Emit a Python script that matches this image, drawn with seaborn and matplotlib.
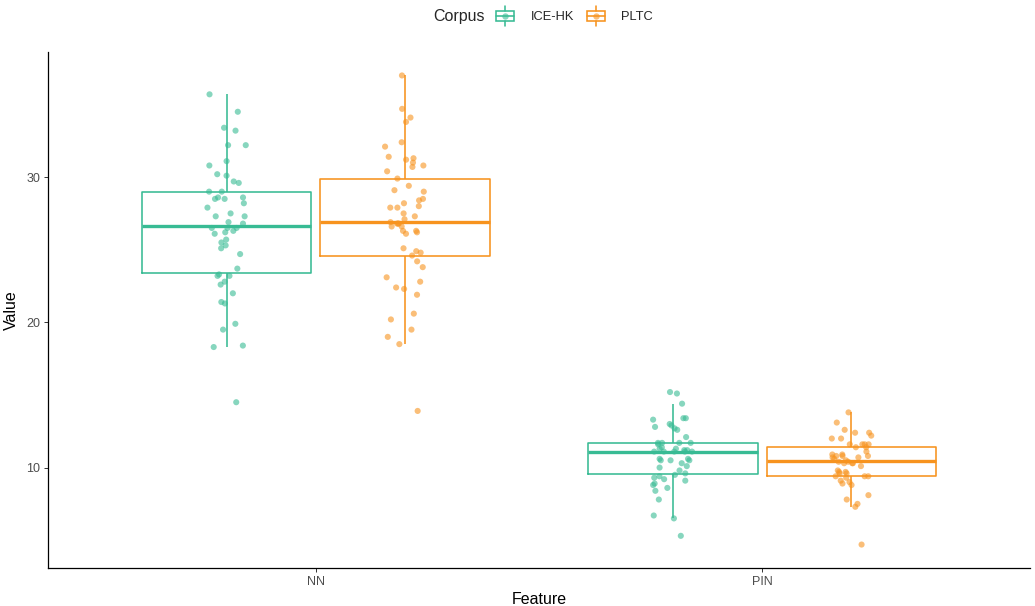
import numpy as np
import pandas as pd
import matplotlib
matplotlib.use("Agg")
import matplotlib.pyplot as plt
import seaborn as sns
from matplotlib.legend_handler import HandlerBase
from matplotlib.patches import Rectangle
from matplotlib.lines import Line2D
from matplotlib.offsetbox import HPacker

# ---------------- data ----------------
features = ["NN", "PIN"]
corpora = ["ICE-HK", "PLTC"]
colors = ["#38BB94", "#F7931E"]

ice_nn = [35.7, 34.5, 33.4, 33.2, 32.2, 32.2, 31.1, 30.8, 30.2, 30.1, 29.7, 29.6,
          29.0, 29.0, 28.6, 28.6, 28.5, 28.5, 28.2, 27.9, 27.5, 27.3, 27.3, 26.9,
          26.8, 26.5, 26.5, 26.5, 26.3, 26.2, 26.1, 25.7, 25.5, 25.3, 25.1, 24.7,
          23.7, 23.3, 23.2, 23.2, 22.8, 22.6, 22.0, 21.4, 21.3, 19.9, 19.5, 18.4,
          18.3, 14.5]
pltc_nn = [37.0, 34.7, 34.1, 33.8, 32.4, 32.1, 31.4, 31.3, 31.2, 31.0, 30.8, 30.7,
           30.4, 29.9, 29.4, 29.1, 29.0, 28.5, 28.4, 28.2, 28.0, 27.9, 27.9, 27.5,
           27.3, 27.1, 26.9, 26.8, 26.8, 26.8, 26.6, 26.6, 26.3, 26.3, 26.2, 26.1,
           25.1, 24.9, 24.8, 24.6, 24.2, 23.8, 23.1, 22.8, 22.4, 22.3, 21.9, 20.6,
           20.2, 19.5, 19.0, 18.5, 13.9]
ice_pin = [15.2, 15.1, 14.4, 13.4, 13.4, 13.3, 13.0, 12.9, 12.8, 12.7, 12.6, 12.1,
           11.7, 11.7, 11.7, 11.7, 11.6, 11.4, 11.3, 11.3, 11.2, 11.2, 11.1, 11.1,
           11.1, 11.1, 11.1, 10.6, 10.6, 10.5, 10.5, 10.5, 10.3, 10.1, 10.0, 9.8,
           9.6, 9.5, 9.4, 9.3, 9.2, 9.1, 8.9, 8.8, 8.6, 8.4, 7.8, 6.7, 6.5, 5.3]
pltc_pin = [13.8, 13.1, 12.6, 12.4, 12.4, 12.2, 12.0, 12.0, 11.6, 11.6, 11.6, 11.6,
            11.4, 11.4, 11.1, 10.9, 10.9, 10.8, 10.8, 10.8, 10.7, 10.7, 10.6, 10.5,
            10.4, 10.4, 10.3, 10.3, 10.3, 10.1, 9.8, 9.7, 9.7, 9.6, 9.6, 9.4, 9.4,
            9.4, 9.3, 9.1, 9.0, 8.9, 8.8, 8.1, 7.8, 7.5, 7.3, 4.7]

groups = [("NN", "ICE-HK", ice_nn), ("NN", "PLTC", pltc_nn),
          ("PIN", "ICE-HK", ice_pin), ("PIN", "PLTC", pltc_pin)]
rows = [(f, c, v) for f, c, vals in groups for v in vals]
df = pd.DataFrame(rows, columns=["Feature", "Corpus", "Value"])

# ---------------- style ----------------
sns.set_style("ticks")
plt.rcParams["font.family"] = ["Liberation Sans", "DejaVu Sans"]

W, H = 1035, 606
fig = plt.figure(figsize=(W / 100, H / 100), dpi=100)
ax = fig.add_axes([48 / W, (H - 568) / H, (1030 - 48) / W, (568 - 52) / H])

palette = dict(zip(corpora, colors))

sns.boxplot(data=df, x="Feature", y="Value", hue="Corpus", order=features,
            hue_order=corpora, palette=palette, fill=False, width=0.8, gap=0.05,
            showfliers=False, showcaps=False, whis=1.5, linewidth=1.15,
            medianprops={"linewidth": 2.4}, legend=False, ax=ax)

np.random.seed(7)
sns.stripplot(data=df, x="Feature", y="Value", hue="Corpus", order=features,
              hue_order=corpora, palette=palette, dodge=True, jitter=0.09,
              size=4.4, alpha=0.6, linewidth=0, legend=False, ax=ax, zorder=3)

# ggplot-like limits
vmin, vmax = df["Value"].min(), df["Value"].max()
pad = 0.05 * (vmax - vmin)
ax.set_ylim(vmin - pad, vmax + pad)
ax.set_xlim(-0.6, 1.6)
ax.set_yticks([10, 20, 30])

for s in ["top", "right"]:
    ax.spines[s].set_visible(False)
for s in ["left", "bottom"]:
    ax.spines[s].set_linewidth(0.9)
    ax.spines[s].set_color("black")

ax.tick_params(axis="both", length=3, width=0.7, color="#333333",
               labelcolor="#4D4D4D", labelsize=9, pad=2.5)
ax.set_xlabel("Feature", fontsize=11.5, color="black", labelpad=3)
ax.set_ylabel("Value", fontsize=11.5, color="black", labelpad=5)
ax.grid(False)


# ---------------- legend ----------------
class BoxKey(HandlerBase):
    def create_artists(self, legend, orig_handle, xdescent, ydescent, width,
                       height, fontsize, trans):
        c = orig_handle.get_color()
        x0, y0 = -xdescent, -ydescent
        w, h = width, height
        rect = Rectangle((x0 + 0.05 * w, y0 + 0.25 * h), 0.9 * w, 0.5 * h,
                         fill=False, edgecolor=c, lw=1.15, transform=trans)
        wl = Line2D([x0 + 0.5 * w] * 2, [y0 + 0.0 * h, y0 + 0.25 * h],
                    color=c, lw=1.15, transform=trans)
        wu = Line2D([x0 + 0.5 * w] * 2, [y0 + 0.75 * h, y0 + 1.0 * h],
                    color=c, lw=1.15, transform=trans)
        med = Line2D([x0 + 0.05 * w, x0 + 0.95 * w], [y0 + 0.5 * h] * 2,
                     color=c, lw=1.15, transform=trans)
        dot = Line2D([x0 + 0.5 * w], [y0 + 0.5 * h], marker="o", ms=4.6,
                     color=c, alpha=0.6, ls="", mew=0, transform=trans)
        return [rect, wl, wu, med, dot]


handles = [Line2D([], [], color=c) for c in colors]
leg = fig.legend(handles, corpora, handler_map={Line2D: BoxKey()},
                 loc="center", bbox_to_anchor=(543 / W, 1 - 16 / H), ncol=2,
                 frameon=False, title="Corpus", fontsize=9.3, title_fontsize=11.5,
                 handlelength=1.55, handleheight=2.0, handletextpad=1.2,
                 columnspacing=0.9, borderpad=0.2)
try:
    tb = leg._legend_title_box
    hb = leg._legend_handle_box
    newbox = HPacker(pad=leg._legend_box.pad, sep=8, align="center",
                     children=[tb, hb])
    newbox.set_figure(fig)
    leg._legend_box = newbox
    leg._set_loc(leg._loc)
except Exception:
    pass

fig.savefig("out.png", dpi=100)
